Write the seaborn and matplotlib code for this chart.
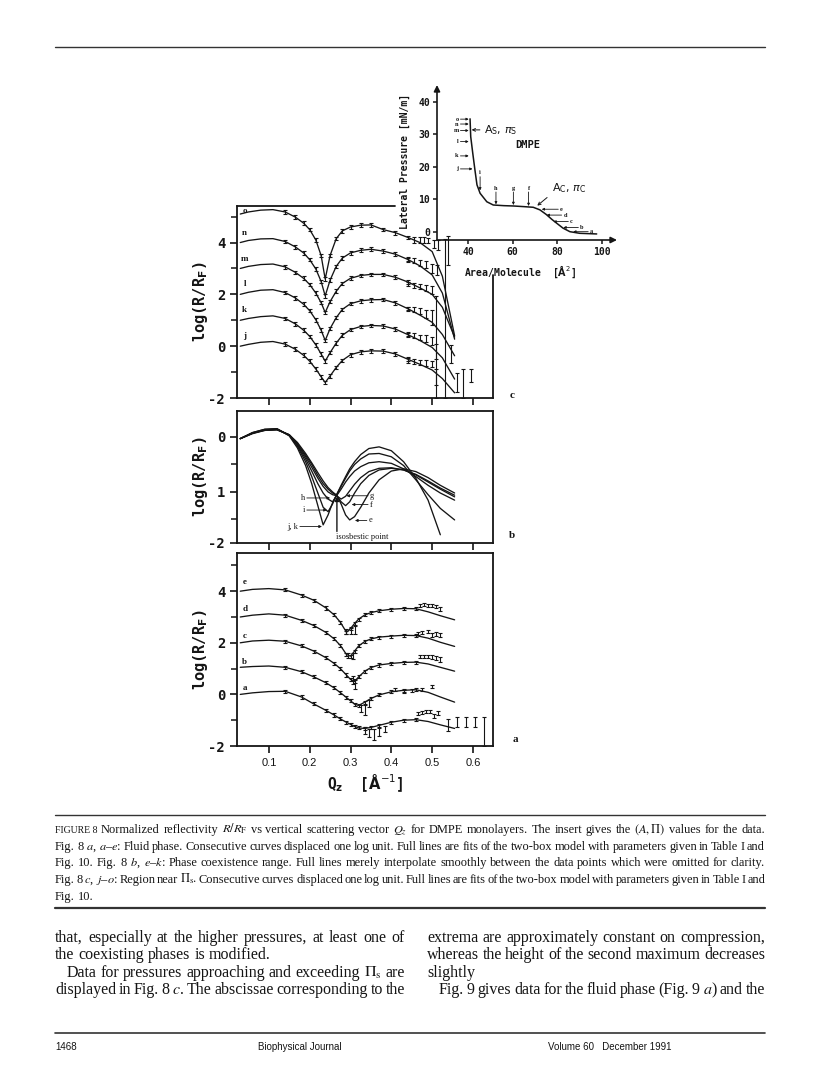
import numpy as np
import pandas as pd
import matplotlib
matplotlib.use("Agg")
import matplotlib.pyplot as plt
import matplotlib.transforms as mtransforms
from matplotlib.lines import Line2D
import seaborn as sns

# ---------------- data ----------------
# Panel c (region near Pi_s): curves j..o, displaced one log unit each
Q_C = [0.03, 0.05, 0.08, 0.11, 0.14, 0.165, 0.185, 0.20, 0.215, 0.228, 0.238, 0.25,
       0.265, 0.28, 0.30, 0.325, 0.35, 0.38, 0.41, 0.44, 0.47, 0.50, 0.525, 0.555]
C_LABELS = ["j", "k", "l", "m", "n", "o"]
C_OFFSETS = [0, 1, 2, 3, 4, 5]
C_J = [0.00, 0.07, 0.15, 0.18, 0.08, -0.12, -0.35, -0.58, -0.88, -1.18, -1.40, -1.15,
       -0.82, -0.55, -0.33, -0.22, -0.18, -0.19, -0.30, -0.50, -0.70, -0.92, -1.25, -1.80]
C_K = [0.00, 0.07, 0.14, 0.17, 0.07, -0.14, -0.38, -0.62, -0.95, -1.30, -1.58, -1.25,
       -0.88, -0.58, -0.36, -0.24, -0.20, -0.22, -0.34, -0.55, -0.78, -1.05, -1.45, -2.27]
C_L = [0.00, 0.08, 0.16, 0.18, 0.07, -0.14, -0.38, -0.63, -0.98, -1.38, -1.78, -1.32,
       -0.90, -0.58, -0.36, -0.25, -0.21, -0.20, -0.33, -0.55, -0.80, -1.08, -1.55, -2.37]
C_M = [0.00, 0.08, 0.15, 0.17, 0.06, -0.15, -0.38, -0.62, -0.95, -1.32, -1.70, -1.28,
       -0.88, -0.58, -0.38, -0.27, -0.23, -0.23, -0.34, -0.52, -0.75, -1.00, -1.50, -2.65]
C_N = [0.00, 0.08, 0.14, 0.15, 0.04, -0.17, -0.40, -0.66, -1.02, -1.50, -2.06, -1.45,
       -0.92, -0.60, -0.40, -0.30, -0.26, -0.33, -0.45, -0.65, -0.90, -1.25, -1.95, -3.73]
C_O = [0.10, 0.18, 0.25, 0.27, 0.18, -0.02, -0.25, -0.50, -0.90, -1.50, -2.41, -1.50,
       -0.85, -0.55, -0.40, -0.33, -0.32, -0.50, -0.62, -0.80, -1.00, -1.35, -2.30, -4.60]
C_CURVES = [C_J, C_K, C_L, C_M, C_N, C_O]
C_LABEL_Y = [0.39, 1.40, 2.40, 3.37, 4.37, 5.22]
# high-Q data points of panel c (absolute values)
C_HI_Q = [0.455, 0.47, 0.48, 0.49, 0.505, 0.515,
          0.44, 0.455, 0.47, 0.485, 0.50, 0.512,
          0.44, 0.455, 0.47, 0.485, 0.50,
          0.44, 0.455, 0.47, 0.485, 0.50,
          0.44, 0.455, 0.47, 0.485, 0.50, 0.51,
          0.44, 0.455, 0.47, 0.485, 0.50, 0.51,
          0.509, 0.531, 0.54, 0.545, 0.56, 0.575, 0.595]
C_HI_V = [4.10, 4.10, 4.10, 4.08, 3.95, 3.90,
          3.35, 3.30, 3.22, 3.15, 3.00, 2.95,
          2.40, 2.35, 2.30, 2.25, 2.18,
          1.45, 1.40, 1.35, 1.25, 1.10,
          0.45, 0.42, 0.35, 0.30, 0.20, -0.20,
          -0.55, -0.60, -0.62, -0.65, -0.70, -1.20,
          -0.03, 1.06, 3.70, -0.30, -1.40, -1.45, -1.15]
C_HI_E = [0.12, 0.10, 0.10, 0.10, 0.15, 0.20,
          0.10, 0.10, 0.12, 0.15, 0.18, 0.20,
          0.08, 0.10, 0.10, 0.12, 0.15,
          0.08, 0.10, 0.12, 0.15, 0.30,
          0.08, 0.10, 0.10, 0.12, 0.15, 0.30,
          0.08, 0.10, 0.10, 0.10, 0.12, 0.30,
          1.97, 3.07, 0.55, 0.35, 0.35, 0.55, 0.25]

# Panel b (phase coexistence range), -log(R/R_F)
Q_B = [0.03, 0.06, 0.09, 0.12, 0.15, 0.17, 0.19, 0.205, 0.22, 0.233, 0.245, 0.256, 0.266,
       0.277, 0.288, 0.298, 0.31, 0.325, 0.345, 0.37, 0.40, 0.43, 0.46, 0.49, 0.52, 0.555]
B_JK = [0.03, -0.08, -0.14, -0.15, -0.02, 0.20, 0.52, 0.85, 1.25, 1.60, 1.42, 1.20, 1.05,
        0.88, 0.72, 0.58, 0.45, 0.32, 0.21, 0.18, 0.25, 0.45, 0.75, 1.15, 1.78, np.nan]
B_I = [0.03, -0.08, -0.14, -0.15, -0.03, 0.17, 0.45, 0.72, 1.02, 1.28, 1.36, 1.22, 1.05,
       0.90, 0.75, 0.62, 0.50, 0.40, 0.31, 0.30, 0.36, 0.52, 0.78, 1.05, 1.30, 1.51]
B_H = [0.03, -0.07, -0.13, -0.14, -0.03, 0.15, 0.40, 0.62, 0.85, 1.02, 1.13, 1.18, 1.07,
       0.95, 0.82, 0.72, 0.62, 0.54, 0.47, 0.45, 0.48, 0.58, 0.72, 0.88, 1.02, 1.15]
B_G = [0.03, -0.07, -0.13, -0.14, -0.04, 0.13, 0.36, 0.55, 0.75, 0.90, 1.00, 1.05, 1.07,
       1.13, 1.08, 0.98, 0.86, 0.74, 0.63, 0.57, 0.56, 0.60, 0.69, 0.82, 0.95, 1.09]
B_F = [0.03, -0.07, -0.12, -0.13, -0.04, 0.12, 0.33, 0.50, 0.70, 0.85, 0.95, 1.02, 1.06,
       1.18, 1.25, 1.18, 1.02, 0.85, 0.70, 0.60, 0.57, 0.60, 0.68, 0.80, 0.93, 1.06]
B_E = [0.03, -0.06, -0.12, -0.13, -0.04, 0.10, 0.30, 0.47, 0.65, 0.80, 0.92, 1.00, 1.06,
       1.22, 1.42, 1.51, 1.45, 1.28, 1.02, 0.78, 0.62, 0.58, 0.63, 0.74, 0.88, 1.02]
B_CURVES = [B_JK, B_I, B_H, B_G, B_F, B_E]
B_NAMES = ["jk", "i", "h", "g", "f", "e"]

# Panel a (fluid phase): curves a..e displaced one log unit each
Q_A = [0.03, 0.06, 0.10, 0.14, 0.18, 0.21, 0.24, 0.26, 0.275, 0.29, 0.30, 0.31, 0.32,
       0.335, 0.35, 0.37, 0.40, 0.43, 0.46, 0.49, 0.52, 0.555]
A_LABELS = ["a", "b", "c", "d", "e"]
A_OFFSETS = [0, 1, 2, 3, 4]
A_A = [0.00, 0.06, 0.11, 0.12, -0.10, -0.37, -0.62, -0.80, -0.95, -1.08, -1.16, -1.24,
       -1.30, -1.32, -1.28, -1.20, -1.08, -1.00, -0.98, -1.05, -1.18, -1.32]
A_B = [0.05, 0.08, 0.10, 0.05, -0.12, -0.32, -0.55, -0.75, -0.93, -1.12, -1.25, -1.38,
       -1.43, -1.30, -1.16, -1.02, -0.90, -0.84, -0.82, -0.92, -1.10, -1.30]
A_C = [0.00, 0.07, 0.10, 0.06, -0.12, -0.32, -0.58, -0.80, -1.00, -1.25, -1.42, -1.50,
       -1.32, -1.10, -0.96, -0.86, -0.80, -0.76, -0.75, -0.82, -0.95, -1.10]
A_D = [0.00, 0.07, 0.12, 0.07, -0.13, -0.33, -0.60, -0.85, -1.10, -1.45, -1.52, -1.32,
       -1.12, -0.95, -0.85, -0.78, -0.74, -0.71, -0.72, -0.82, -0.98, -1.14]
A_E = [0.00, 0.07, 0.10, 0.05, -0.15, -0.35, -0.65, -0.92, -1.20, -1.59, -1.45, -1.25,
       -1.08, -0.92, -0.83, -0.76, -0.70, -0.67, -0.68, -0.80, -0.95, -1.11]
A_CURVES = [A_A, A_B, A_C, A_D, A_E]
A_LABEL_Y = [0.25, 1.26, 2.26, 3.31, 4.36]
A_HI_Q = [0.47, 0.48, 0.49, 0.50, 0.51, 0.52,
          0.465, 0.475, 0.49, 0.50, 0.51, 0.52,
          0.47, 0.48, 0.49, 0.50, 0.51, 0.52,
          0.41, 0.43, 0.45, 0.475, 0.50,
          0.465, 0.475, 0.485, 0.495, 0.505, 0.515,
          0.54, 0.561, 0.582, 0.604, 0.627,
          0.29, 0.30, 0.31, 0.295, 0.305, 0.305, 0.31,
          0.325, 0.335, 0.345, 0.335, 0.345, 0.358, 0.37, 0.385]
A_HI_V = [3.45, 3.47, 3.45, 3.45, 3.42, 3.30,
          2.35, 2.40, 2.45, 2.30, 2.35, 2.30,
          1.47, 1.48, 1.47, 1.45, 1.40, 1.35,
          0.20, 0.12, 0.15, 0.20, 0.30,
          -0.75, -0.70, -0.68, -0.65, -0.85, -0.72,
          -1.17, -1.08, -1.08, -1.08, -1.44,
          2.45, 2.45, 2.50, 1.50, 1.50, 0.55, 0.40,
          -0.55, -0.60, -0.35, -1.40, -1.50, -1.55, -1.45, -1.35]
A_HI_E = [0.06, 0.06, 0.06, 0.06, 0.06, 0.07,
          0.06, 0.06, 0.06, 0.07, 0.07, 0.08,
          0.06, 0.06, 0.06, 0.07, 0.07, 0.08,
          0.05, 0.05, 0.05, 0.05, 0.05,
          0.06, 0.06, 0.06, 0.06, 0.08, 0.08,
          0.23, 0.20, 0.20, 0.20, 0.56,
          0.10, 0.12, 0.15, 0.10, 0.12, 0.15, 0.20,
          0.15, 0.20, 0.12, 0.12, 0.15, 0.20, 0.15, 0.12]

X_TICKS = [0.1, 0.2, 0.3, 0.4, 0.5, 0.6]
X_TICK_LABELS = ["0.1", "0.2", "0.3", "0.4", "0.5", "0.6"]

# Inset isotherm
AREA = [40.9, 41.2, 42.1, 43.1, 44.0, 45.4, 48.4, 51.3, 56.0, 60.3, 65.0, 69.2, 72.2,
        75.0, 77.5, 79.7, 82.5, 85.6, 90.0, 97.6]
PRESS = [34.8, 29.3, 24.3, 19.0, 14.5, 11.9, 9.3, 8.3, 8.1, 8.0, 7.8, 7.6, 6.8,
         5.4, 3.9, 2.7, 1.2, 0.1, -0.4, -0.6]
LEFT_MARKS = ["o", "n", "m", "l", "k", "j"]
LEFT_PRESS = [34.7, 33.2, 31.2, 27.8, 23.4, 19.4]
VERT_MARKS = ["i", "h", "g", "f"]
VERT_AREA = [45.4, 52.5, 60.3, 67.1]
VERT_TOP = [17.0, 12.3, 12.3, 12.3]
VERT_BOT = [12.8, 8.5, 8.3, 8.0]
RIGHT_MARKS = ["e", "d", "c", "b", "a"]
RIGHT_PRESS = [7.0, 5.2, 3.2, 1.4, 0.1]
RIGHT_TIP = [73.0, 75.2, 78.2, 82.7, 87.1]
RIGHT_TAIL = [80.4, 81.9, 84.9, 89.4, 93.8]

# ---------------- style ----------------
sns.set_theme(style="ticks")
plt.rcParams["font.family"] = ["DejaVu Sans Mono", "DejaVu Sans"]
plt.rcParams["axes.facecolor"] = "none"
INK = "#151515"

W, H = 816, 1065
fig = plt.figure(figsize=(W / 100, H / 100), dpi=100)
fig.patch.set_facecolor("white")
ID = mtransforms.IdentityTransform()


def rect(l, t, r, b):
    return [l / W, 1 - b / H, (r - l) / W, (b - t) / H]


def base_style(ax):
    for s in ax.spines.values():
        s.set_linewidth(1.3)
        s.set_color(INK)
    ax.tick_params(direction="out", length=5, width=1.2, colors=INK, labelsize=10)
    ax.tick_params(which="minor", direction="out", length=4, width=1.1, colors=INK)
    ax.set_xlim(0.022, 0.649)
    ax.set_xticks(X_TICKS)


def panel_df(qs, curves, names, offsets):
    rows = []
    for name, vals, off in zip(names, curves, offsets):
        for q, v in zip(qs, vals):
            if not np.isnan(v):
                rows.append((name, q, v + off))
    return pd.DataFrame(rows, columns=["curve", "Q", "v"])


EB = dict(fmt="none", ecolor=INK, elinewidth=0.8, capsize=1.6, capthick=0.8)
LW = 0.95

# ---------------- panel c ----------------
axc = fig.add_axes(rect(237, 206, 493, 398))
dfc = panel_df(Q_C, C_CURVES, C_LABELS, C_OFFSETS)
sns.lineplot(data=dfc, x="Q", y="v", units="curve", estimator=None, color=INK,
             lw=LW, ax=axc, legend=False)
for vals, off in zip(C_CURVES, C_OFFSETS):
    qs = [q for q in Q_C if 0.14 <= q <= 0.44]
    vs = [v + off for q, v in zip(Q_C, vals) if 0.14 <= q <= 0.44]
    axc.errorbar(qs, vs, yerr=0.07, **EB)
axc.errorbar(C_HI_Q, C_HI_V, yerr=C_HI_E, **EB)
axc.set_ylim(-2, 5.41)
base_style(axc)
axc.set_yticks([-2, 0, 2, 4])
axc.set_yticklabels(["-2", "0", "2", "4"], fontweight="bold")
axc.set_yticks([-1, 1, 3, 5], minor=True)
axc.set_xticklabels([])
axc.spines["top"].set_visible(False)
axc.spines["right"].set_visible(False)
axc.plot([0, 0.616], [1, 1], transform=axc.transAxes, color=INK, lw=1.3, clip_on=False)
axc.plot([1, 1], [0, 0.64], transform=axc.transAxes, color=INK, lw=1.3, clip_on=False)
axc.set_xlabel("")
axc.set_ylabel(r"log(R/R$_\mathbf{F}$)", fontsize=11, fontweight="bold", color=INK)
axc.yaxis.set_label_coords(-0.105, 0.5)
for lab, y in zip(C_LABELS, C_LABEL_Y):
    axc.text(0.041, y, lab, fontsize=6.5, family="Liberation Serif", fontweight="bold",
             ha="center", va="center", color=INK)
fig.text(512 / W, 1 - 395 / H, "c", fontsize=8, family="Liberation Serif",
         fontweight="bold", ha="center", va="center", color=INK)

# ---------------- panel b ----------------
axb = fig.add_axes(rect(237, 411, 493, 543))
dfb = panel_df(Q_B, B_CURVES, B_NAMES, [0] * len(B_NAMES))
sns.lineplot(data=dfb, x="Q", y="v", units="curve", estimator=None, color=INK,
             lw=LW, ax=axb, legend=False)
axb.set_ylim(1.927, -0.473)
base_style(axb)
axb.set_yticks([0, 1, 1.93])
axb.set_yticklabels(["0", "1", "-2"], fontweight="bold")
axb.set_yticks([0.5, 1.5], minor=True)
axb.set_xticklabels([])
axb.set_xlabel("")
axb.set_ylabel(r"log(R/R$_\mathbf{F}$)", fontsize=11, fontweight="bold", color=INK)
axb.yaxis.set_label_coords(-0.105, 0.5)
ser = dict(fontsize=6, family="Liberation Serif", color=INK, va="center")
arr = dict(arrowstyle="-|>", lw=0.6, color=INK, mutation_scale=4, shrinkA=0, shrinkB=0)
for txt, yv, x0, x1 in [("h", 1.11, 0.193, 0.250), ("i", 1.33, 0.193, 0.242),
                        ("j, k", 1.63, 0.176, 0.230)]:
    axb.text(x0 - 0.004, yv, txt, ha="right", **ser)
    axb.annotate("", xy=(x1, yv), xytext=(x0, yv), arrowprops=arr)
for txt, yv, x0, x1 in [("g", 1.07, 0.343, 0.290), ("f", 1.23, 0.343, 0.303),
                        ("e", 1.52, 0.340, 0.311)]:
    axb.text(x0 + 0.005, yv, txt, ha="left", **ser)
    axb.annotate("", xy=(x1, yv), xytext=(x0, yv), arrowprops=arr)
axb.annotate("", xy=(0.2667, 1.085), xytext=(0.2667, 1.72),
             arrowprops=dict(arrowstyle="-|>", lw=1.0, color=INK, mutation_scale=6,
                             shrinkA=0, shrinkB=0))
axb.text(0.2635, 1.82, "isosbestic point", ha="left", **ser)
fig.text(512 / W, 1 - 536 / H, "b", fontsize=8, family="Liberation Serif",
         fontweight="bold", ha="center", va="center", color=INK)

# ---------------- panel a ----------------
axa = fig.add_axes(rect(237, 553, 493, 746))
dfa = panel_df(Q_A, A_CURVES, A_LABELS, A_OFFSETS)
sns.lineplot(data=dfa, x="Q", y="v", units="curve", estimator=None, color=INK,
             lw=LW, ax=axa, legend=False)
for vals, off in zip(A_CURVES, A_OFFSETS):
    qs = [q for q in Q_A if 0.12 <= q <= 0.46]
    vs = [v + off for q, v in zip(Q_A, vals) if 0.12 <= q <= 0.46]
    axa.errorbar(qs, vs, yerr=0.06, **EB)
axa.errorbar(A_HI_Q, A_HI_V, yerr=A_HI_E, **EB)
axa.set_ylim(-2, 5.48)
base_style(axa)
axa.set_yticks([-2, 0, 2, 4])
axa.set_yticklabels(["-2", "0", "2", "4"], fontweight="bold")
axa.set_yticks([-1, 1, 3, 5], minor=True)
axa.set_xticklabels(X_TICK_LABELS, family="Liberation Sans", fontsize=8)
axa.tick_params(axis="x", pad=4)
axa.set_xlabel(r"Q$_\mathbf{z}$  [$\mathbf{\AA}^{-1}$]", fontsize=10.5,
               fontweight="bold", color=INK, labelpad=3)
axa.set_ylabel(r"log(R/R$_\mathbf{F}$)", fontsize=11, fontweight="bold", color=INK)
axa.yaxis.set_label_coords(-0.105, 0.5)
for lab, y in zip(A_LABELS, A_LABEL_Y):
    axa.text(0.041, y, lab, fontsize=6.5, family="Liberation Serif", fontweight="bold",
             ha="center", va="center", color=INK)
fig.text(515 / W, 1 - 739 / H, "a", fontsize=8, family="Liberation Serif",
         fontweight="bold", ha="center", va="center", color=INK)

# ---------------- inset isotherm ----------------
axi = fig.add_axes(rect(437, 85, 617, 240))
axi.patch.set_alpha(0)
sns.lineplot(x=AREA, y=PRESS, sort=False, estimator=None, color=INK, lw=1.1, ax=axi)
axi.set_xlim(26.1, 106.7)
axi.set_ylim(-2.46, 45.2)
for s in axi.spines.values():
    s.set_visible(False)
axi.annotate("", xy=(0, 1), xytext=(0, 0), xycoords="axes fraction",
             arrowprops=dict(arrowstyle="-|>", lw=1.2, color=INK, mutation_scale=9,
                             shrinkA=0, shrinkB=0))
axi.annotate("", xy=(1, 0), xytext=(0, 0), xycoords="axes fraction",
             arrowprops=dict(arrowstyle="-|>", lw=1.2, color=INK, mutation_scale=9,
                             shrinkA=0, shrinkB=0))
axi.set_yticks([0, 10, 20, 30, 40])
axi.set_yticklabels(["0", "10", "20", "30", "40"], fontweight="bold")
axi.set_xticks([40, 60, 80, 100])
axi.set_xticklabels(["40", "60", "80", "100"], fontweight="bold")
axi.tick_params(direction="out", length=3, width=1.1, colors=INK, labelsize=7, pad=2)
axi.set_ylabel("Lateral Pressure [mN/m]", fontsize=7, fontweight="bold", color=INK)
axi.yaxis.set_label_coords(-0.15, 0.51)
axi.set_xlabel(r"Area/Molecule  [$\mathbf{\AA}^2$]", fontsize=7, fontweight="bold",
               color=INK)
axi.xaxis.set_label_coords(0.46, -0.15)
small = dict(fontsize=4.5, family="Liberation Serif", fontweight="bold", color=INK)
arr_i = dict(arrowstyle="-|>", lw=0.6, color=INK, mutation_scale=3.5, shrinkA=0, shrinkB=0)
for lab, p in zip(LEFT_MARKS, LEFT_PRESS):
    tip = 42.0 if lab == "j" else 40.3
    axi.annotate("", xy=(tip, p), xytext=(36.6, p), arrowprops=arr_i)
    axi.text(35.8, p, lab, ha="right", va="center", **small)
for lab, a, t, b in zip(VERT_MARKS, VERT_AREA, VERT_TOP, VERT_BOT):
    axi.annotate("", xy=(a, b), xytext=(a, t), arrowprops=arr_i)
    axi.text(a, t + 0.4, lab, ha="center", va="bottom", **small)
for lab, p, tip, tail in zip(RIGHT_MARKS, RIGHT_PRESS, RIGHT_TIP, RIGHT_TAIL):
    axi.annotate("", xy=(tip, p), xytext=(tail, p), arrowprops=arr_i)
    axi.text(tail + 0.8, p, lab, ha="left", va="center", **small)
axi.annotate("", xy=(41.6, 31.4), xytext=(45.3, 31.4),
             arrowprops=dict(arrowstyle="->", lw=0.7, color=INK, mutation_scale=5,
                             shrinkA=0, shrinkB=0))
axi.text(47.0, 31.4, r"A$_\mathrm{S}$, $\pi_\mathrm{S}$", fontsize=8, family="DejaVu Sans",
         ha="left", va="center", color=INK)
axi.text(61.3, 26.8, "DMPE", fontsize=7.5, fontweight="bold", ha="left", va="center",
         color=INK)
axi.text(77.4, 13.4, r"A$_\mathrm{C}$, $\pi_\mathrm{C}$", fontsize=8, family="DejaVu Sans",
         ha="left", va="center", color=INK)
axi.annotate("", xy=(71.0, 8.1), xytext=(75.4, 10.6),
             arrowprops=dict(arrowstyle="->", lw=0.7, color=INK, mutation_scale=5,
                             shrinkA=0, shrinkB=0))

# ---------------- page furniture: rules, caption, body text, footer ----------------
def hline(y, x0=55, x1=765, lw=1.0):
    fig.add_artist(Line2D([x0, x1], [H - y, H - y], transform=ID, color="#333333", lw=lw))


hline(47, lw=1.0)
hline(815, lw=1.0)
hline(908, lw=1.6)
hline(1033, lw=1.2)

renderer = fig.canvas.get_renderer()


def make_tokens(line, size, family):
    arts = []
    for tok in line:
        s = tok
        sz = size
        if isinstance(tok, tuple):
            s, sz = tok
        arts.append(fig.text(0, 0, s, transform=ID, fontsize=sz, family=family,
                             ha="left", va="baseline", math_fontfamily="stix", color=INK))
    return arts


def fit_size(lines, x0, x1, start, family, mingap):
    size = start
    while size > 5:
        ok = True
        for toks_, just, indent in lines:
            if not just:
                continue
            arts = make_tokens(toks_, size, family)
            w = sum(a.get_window_extent(renderer).width for a in arts)
            for a in arts:
                a.remove()
            if w + (len(arts) - 1) * size * 100 / 72 * mingap > x1 - x0 - indent:
                ok = False
                break
        if ok:
            return size
        size -= 0.1
    return size


def place(lines, baselines, x0, x1, size, family):
    for (toks_, just, indent), yb in zip(lines, baselines):
        arts = make_tokens(toks_, size, family)
        ws = [a.get_window_extent(renderer).width for a in arts]
        if just and len(arts) > 1:
            gap = (x1 - x0 - indent - sum(ws)) / (len(arts) - 1)
        else:
            gap = size * 100 / 72 * 0.25
        x = x0 + indent
        for a, w in zip(arts, ws):
            a.set_position((x, H - yb))
            x += w + gap


def toks(s):
    return s.split(" ")


cap_lines = [
    ([("FIGURE 8", 7.0)] + toks(r"Normalized reflectivity $R/R_\mathrm{F}$ vs vertical scattering "
                                r"vector $Q_z$ for DMPE monolayers. The insert gives the "
                                r"$(A,\Pi)$ values for the data."), True, 0),
    (toks(r"Fig. 8 $a$, $a$–$e$: Fluid phase. Consecutive curves displaced one log unit. "
          r"Full lines are fits of the two-box model with parameters given in Table I and"), True, 0),
    (toks(r"Fig. 10. Fig. 8 $b$, $e$–$k$: Phase coexistence range. Full lines merely "
          r"interpolate smoothly between the data points which were omitted for clarity."), True, 0),
    (toks(r"Fig. 8 $c$, $j$–$o$: Region near $\Pi_\mathrm{s}$. Consecutive curves displaced "
          r"one log unit. Full lines are fits of the two-box model with parameters given in "
          r"Table I and"), True, 0),
    (toks("Fig. 10."), False, 0),
]
csize = fit_size(cap_lines, 55, 765, 9.5, "Liberation Serif", 0.12)
place(cap_lines, [833, 850, 866, 883, 900], 55, 765, csize, "Liberation Serif")

left_lines = [
    (toks("that, especially at the higher pressures, at least one of"), True, 0),
    (toks("the coexisting phases is modified."), False, 0),
    (toks(r"Data for pressures approaching and exceeding $\Pi_\mathrm{s}$ are"), True, 12),
    (toks(r"displayed in Fig. 8 $c$. The abscissae corresponding to the"), True, 0),
]
right_lines = [
    (toks("extrema are approximately constant on compression,"), True, 0),
    (toks("whereas the height of the second maximum decreases"), True, 0),
    (toks("slightly"), False, 0),
    (toks(r"Fig. 9 gives data for the fluid phase (Fig. 9 $a$) and the"), True, 12),
]
bsize = min(fit_size(left_lines, 55, 405, 12.0, "Liberation Serif", 0.16),
            fit_size(right_lines, 427, 765, 12.0, "Liberation Serif", 0.16))
place(left_lines, [942, 959, 977, 994], 55, 405, bsize, "Liberation Serif")
place(right_lines, [942, 959, 977, 994], 427, 765, bsize, "Liberation Serif")

for s, x in [("1468", 55), ("Biophysical Journal", 258), ("Volume 60   December 1991", 548)]:
    fig.text(x, H - 1050, s, transform=ID, fontsize=7, family="Liberation Sans",
             ha="left", va="baseline", color=INK)

fig.savefig("out.png", dpi=100, facecolor="white")
